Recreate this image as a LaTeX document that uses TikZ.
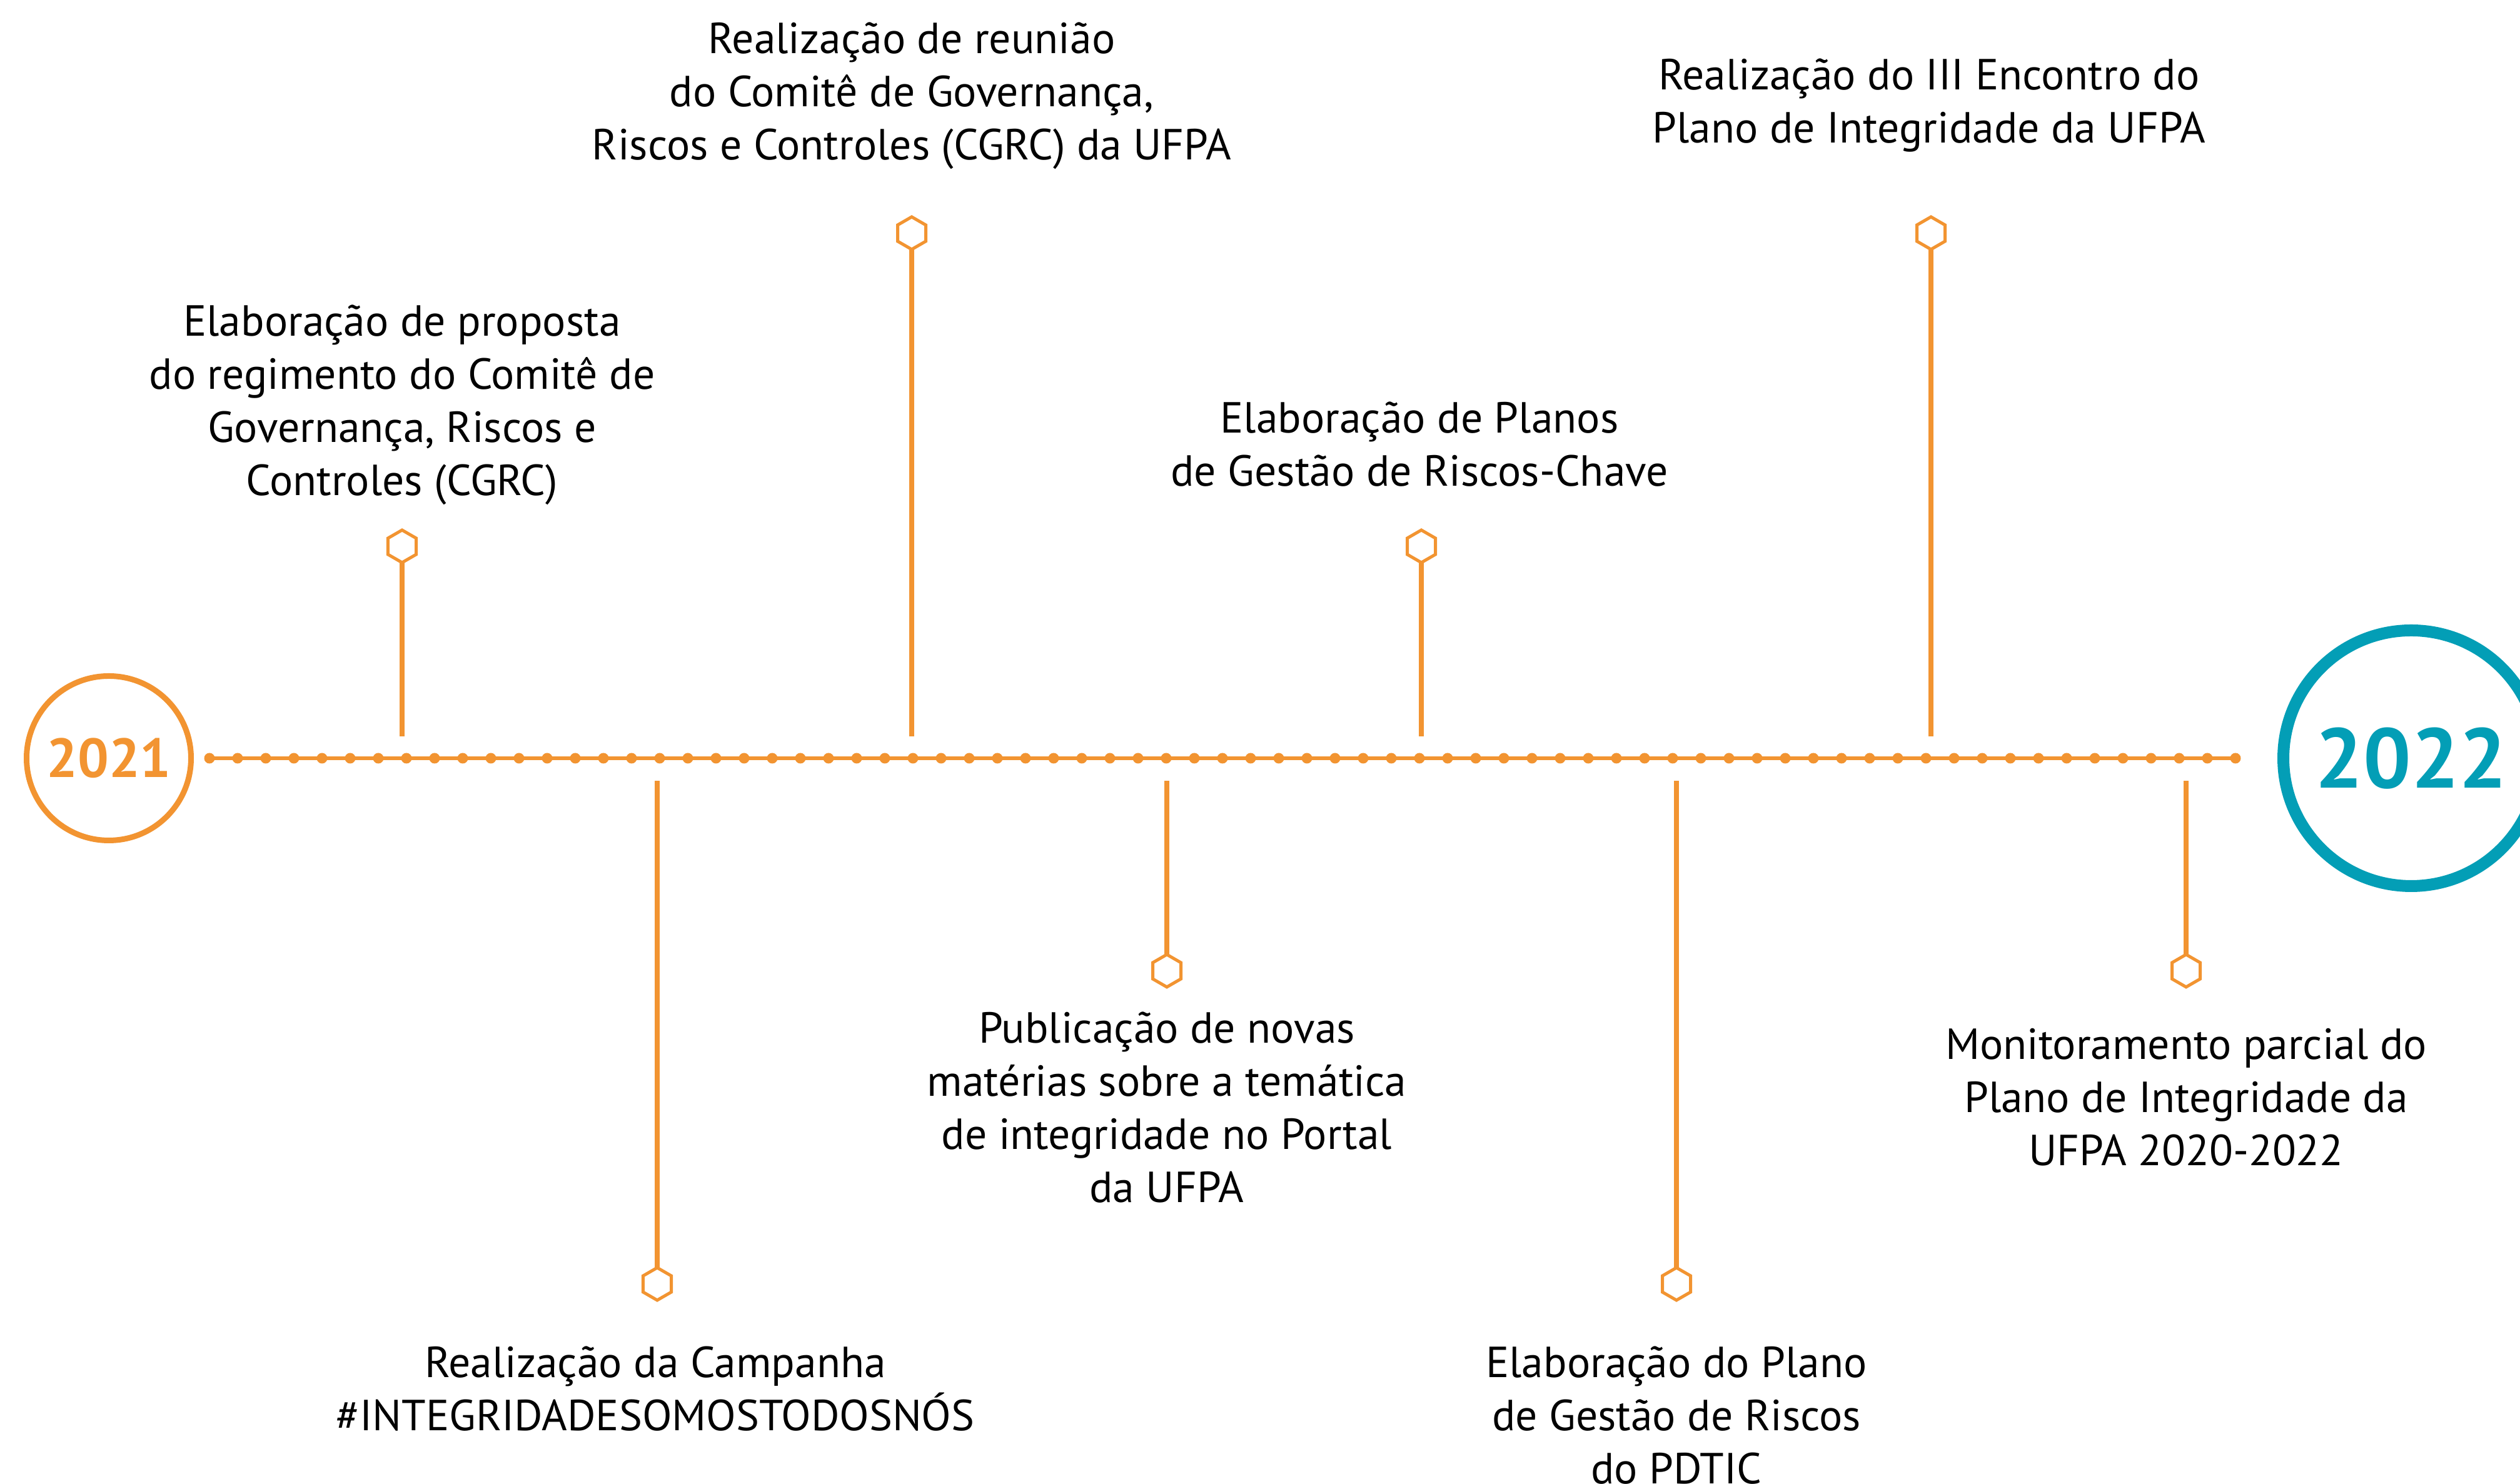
\documentclass[tikz,border=0pt]{standalone}
\usepackage{fontspec}
\setmainfont{PT Sans}
\usetikzlibrary{shapes.geometric}
\definecolor{tlorange}{HTML}{F29431}
\definecolor{tlteal}{HTML}{039EB6}

\begin{document}
\begin{tikzpicture}[
    hexmark/.style={draw=tlorange, line width=0.05cm, fill=white, regular polygon, regular polygon sides=6, regular polygon rotate=30, minimum size=0.52cm, inner sep=0pt, outer sep=0pt},
    stem/.style={tlorange, line width=0.08cm},
    event/.style={align=center, font=\fontsize{19.8}{24.2}\selectfont, inner sep=0pt},
    year/.style={circle, inner sep=0pt, font=\bfseries}
  ]
    \clip (0, 0) rectangle (40.30, 23.74);

    % years
    \node[year, draw=tlorange, text=tlorange, line width=0.09cm, minimum size=2.63cm, font=\bfseries\fontsize{25}{30}\selectfont] (y2021) at (1.74, 11.61) {2021};
    \node[year, draw=tlteal, text=tlteal, line width=0.19cm, minimum size=4.09cm, font=\bfseries\fontsize{38.5}{46}\selectfont] (y2022) at (38.56, 11.61) {2022};

    % timeline
    \coordinate (start) at (3.35, 11.61);
    \coordinate (end) at (35.75, 11.61);
    \draw[tlorange, line width=0.06cm] (start) -- (end);
    \foreach \i in {0,...,72} {
        \fill[tlorange] (3.35 + 0.45*\i, 11.61) circle(0.085);
    }

    % markers above
    \node[hexmark] (hex1) at (6.43, 15.00) {};
    \node[hexmark] (hex3) at (14.58, 20.01) {};
    \node[hexmark] (hex5) at (22.73, 15.00) {};
    \node[hexmark] (hex7) at (30.88, 20.01) {};
    \coordinate (tip1) at (6.43, 11.96);
    \coordinate (tip3) at (14.58, 11.96);
    \coordinate (tip5) at (22.73, 11.96);
    \coordinate (tip7) at (30.88, 11.96);

    % markers below
    \node[hexmark] (hex2) at (10.51, 3.20) {};
    \node[hexmark] (hex4) at (18.66, 8.21) {};
    \node[hexmark] (hex6) at (26.81, 3.20) {};
    \node[hexmark] (hex8) at (34.96, 8.21) {};
    \coordinate (tip2) at (10.51, 11.25);
    \coordinate (tip4) at (18.66, 11.25);
    \coordinate (tip6) at (26.81, 11.25);
    \coordinate (tip8) at (34.96, 11.25);

    \foreach \k in {1,...,8} {
        \draw[stem] (hex\k) -- (tip\k);
    }

    % events
    \node[event] (ev1) at (6.43, 17.26) {Elaboração de proposta\\do regimento do Comitê de\\Governança, Riscos e\\Controles (CGRC)};
    \node[event] (ev3) at (14.58, 22.21) {Realização de reunião\\do Comitê de Governança,\\Riscos e Controles (CGRC) da UFPA};
    \node[event] (ev5) at (22.70, 16.63) {Elaboração de Planos\\de Gestão de Riscos-Chave};
    \node[event] (ev7) at (30.85, 22.05) {Realização do III Encontro do\\Plano de Integridade da UFPA};
    \node[event] (ev2) at (10.48, 1.52) {Realização da Campanha\\\#INTEGRIDADESOMOSTODOSNÓS};
    \node[event] (ev4) at (18.66, 6.02) {Publicação de novas\\matérias sobre a temática\\de integridade no Portal\\da UFPA};
    \node[event] (ev6) at (26.81, 1.10) {Elaboração do Plano\\de Gestão de Riscos\\do PDTIC};
    \node[event] (ev8) at (34.96, 6.19) {Monitoramento parcial do\\Plano de Integridade da\\UFPA 2020-2022};
\end{tikzpicture}
\end{document}
